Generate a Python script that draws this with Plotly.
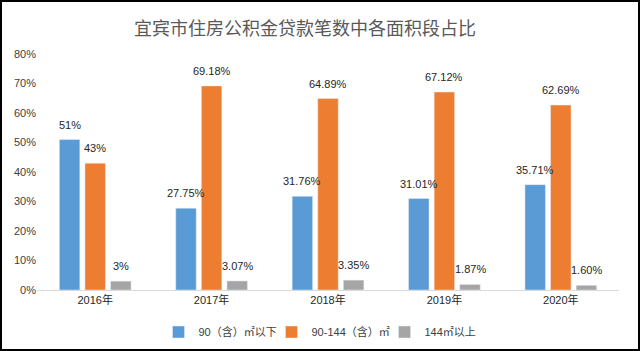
import plotly.graph_objects as go

categories = ["2016年", "2017年", "2018年", "2019年", "2020年"]
series_names = ["90（含）㎡以下", "90-144（含）㎡", "144㎡以上"]
s1 = [51, 27.75, 31.76, 31.01, 35.71]
s2 = [43, 69.18, 64.89, 67.12, 62.69]
s3 = [3, 3.07, 3.35, 1.87, 1.60]
s1_labels = ["51%", "27.75%", "31.76%", "31.01%", "35.71%"]
s2_labels = ["43%", "69.18%", "64.89%", "67.12%", "62.69%"]
s3_labels = ["3%", "3.07%", "3.35%", "1.87%", "1.60%"]
y_ticks = [0, 10, 20, 30, 40, 50, 60, 70, 80]
y_ticklabels = ["0%", "10%", "20%", "30%", "40%", "50%", "60%", "70%", "80%"]

colors = ["#5B9BD5", "#ED7D31", "#A5A5A5"]
font_fam = "Liberation Sans, Noto Sans CJK SC, sans-serif"
BARGAP = 0.34
slot = (1 - BARGAP) / 3

fig = go.Figure()
all_vals = [s1, s2, s3]
all_labels = [s1_labels, s2_labels, s3_labels]
for k, (name, vals) in enumerate(zip(series_names, all_vals)):
    fig.add_trace(go.Bar(x=categories, y=vals, name=name, marker_color=colors[k],
                         hoverinfo="skip"))

annotations = []
for k in range(3):
    for i, (v, t) in enumerate(zip(all_vals[k], all_labels[k])):
        annotations.append(dict(x=i + (k - 1) * slot, y=v, xref="x", yref="y",
                                text=t, showarrow=False, yshift=15,
                                font=dict(size=11, color="#262626", family=font_fam)))

L, R, T, B = 37, 21, 54, 61
pw, ph = 640 - L - R, 351 - T - B

fig.update_layout(
    width=640, height=351,
    margin=dict(l=L, r=R, t=T, b=B, autoexpand=False),
    paper_bgcolor="white", plot_bgcolor="white",
    barmode="group", bargap=BARGAP, bargroupgap=0.2,
    title=dict(text="宜宾市住房公积金贷款笔数中各面积段占比", x=305 / 640, xref="container",
               xanchor="center", y=1 - 29 / 351, yref="container", yanchor="middle",
               font=dict(size=18, color="#595959", family="Noto Sans CJK SC")),
    font=dict(family=font_fam, size=11, color="#404040"),
    showlegend=True,
    legend=dict(orientation="h", x=0.5, xanchor="center", xref="paper",
                y=1 - 332 / 351, yref="container", yanchor="middle",
                font=dict(size=11, color="#404040", family=font_fam),
                itemwidth=30, tracegroupgap=0, entrywidth=68, entrywidthmode="pixels"),
    annotations=annotations,
    shapes=[dict(type="rect", xref="paper", yref="paper",
                 x0=-(L - 1) / pw, x1=1 + (R - 1) / pw, y0=-(B - 1) / ph, y1=1 + (T - 1) / ph,
                 line=dict(color="black", width=2))],
)
fig.update_xaxes(showline=True, linecolor="#D9D9D9", linewidth=1, showgrid=False,
                 ticks="", tickfont=dict(size=11, color="#262626"))
fig.update_yaxes(range=[0, 80], tickvals=y_ticks, ticktext=y_ticklabels, showgrid=False,
                 zeroline=False, showline=False, tickfont=dict(size=11, color="#404040"))

fig.write_html("out.html")
